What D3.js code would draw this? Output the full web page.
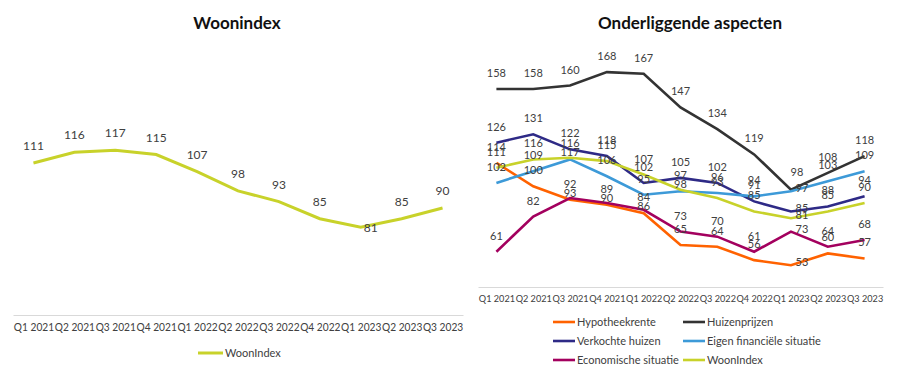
<!DOCTYPE html>
<html>
<head>
<meta charset="utf-8">
<script src="https://cdn.jsdelivr.net/npm/d3@7"></script>
<style>
  body { margin: 0; background: #fff; }
  svg { font-family: Lato, "Noto Sans", sans-serif; }
</style>
</head>
<body>
<svg id="chart" width="900" height="370"></svg>
<script>
// categories + series
const quarters = ['Q1 2021', 'Q2 2021', 'Q3 2021', 'Q4 2021', 'Q1 2022', 'Q2 2022',
    'Q3 2022', 'Q4 2022', 'Q1 2023', 'Q2 2023', 'Q3 2023'];

const woonIndex = [111, 116, 117, 115, 107, 98, 93, 85, 81, 85, 90];
const hypotheekrente = [114, 100, 92, 89, 84, 65, 64, 56, 53, 60, 57];
const huizenprijzen = [158, 158, 160, 168, 167, 147, 134, 119, 98, 108, 118];
const verkochteHuizen = [126, 131, 122, 118, 102, 105, 102, 91, 85, 88, 94];
const eigenFinancieel = [102, 109, 116, 106, 95, 97, 96, 94, 97, 103, 109];
const economisch = [61, 82, 93, 90, 86, 73, 70, 61, 73, 64, 68];

const seriesNames = ['Hypotheekrente', 'Huizenprijzen', 'Verkochte huizen',
    'Eigen financiële situatie', 'Economische situatie', 'WoonIndex'];
const seriesValues = [hypotheekrente, huizenprijzen, verkochteHuizen, eigenFinancieel, economisch, woonIndex];
const seriesColors = ['#ff6200', '#333333', '#2e2a86', '#3d9ad8', '#a3005e', '#c8d22a'];

// in the original the labels at the dip quarter sit to the right of the point
const sideLabelQuarter = 'Q1 2023';

const svg = d3.select('#chart');
const labelColor = '#404040';

// ---- left chart: Woonindex
const x1 = d3.scalePoint().domain(quarters).range([13, 463]).padding(0.5);
const y1 = d3.scaleLinear().domain([40, 140]).range([315, 101]);

svg.append('text')
    .attr('x', 237).attr('y', 29)
    .attr('text-anchor', 'middle')
    .attr('font-size', 17).attr('font-weight', 'bold')
    .attr('fill', '#111')
    .text('Woonindex');

const left = svg.append('g');

// tick labels in the original run into each other, so stretch them to the step
left.append('g')
    .attr('transform', 'translate(0,315)')
    .call(d3.axisBottom(x1).tickSize(0).tickPadding(8))
    .call(g => g.select('.domain').attr('stroke', '#d9d9d9'))
    .call(g => g.selectAll('text')
        .attr('font-size', 11.2).attr('fill', labelColor).attr('font-family', 'Lato')
        .attr('textLength', x1.step() - 0.6).attr('lengthAdjust', 'spacingAndGlyphs'));

left.append('path')
    .datum(woonIndex)
    .attr('fill', 'none')
    .attr('stroke', '#c8d22a')
    .attr('stroke-width', 3)
    .attr('d', d3.line().x((d, i) => x1(quarters[i])).y(d => y1(d)));

left.selectAll('.lbl')
    .data(woonIndex)
    .enter()
    .append('text')
    .attr('x', (d, i) => x1(quarters[i]) + (quarters[i] == sideLabelQuarter ? 10 : 0))
    .attr('y', (d, i) => y1(d) + (quarters[i] == sideLabelQuarter ? 5 : -13))
    .attr('text-anchor', 'middle')
    .attr('font-size', 12)
    .attr('fill', labelColor)
    .text(d => d);

// legend left
svg.append('line')
    .attr('x1', 198).attr('x2', 223).attr('y1', 353).attr('y2', 353)
    .attr('stroke', '#c8d22a').attr('stroke-width', 3);
svg.append('text')
    .attr('x', 225).attr('y', 357)
    .attr('font-size', 11).attr('fill', labelColor)
    .text('WoonIndex');

// ---- right chart: Onderliggende aspecten
const x2 = d3.scalePoint().domain(quarters).range([478, 883]).padding(0.5);
const y2 = d3.scaleLinear().domain([40, 180]).range([287, 52]);

svg.append('text')
    .attr('x', 690).attr('y', 29)
    .attr('text-anchor', 'middle')
    .attr('font-size', 17).attr('font-weight', 'bold')
    .attr('fill', '#111')
    .text('Onderliggende aspecten');

const right = svg.append('g');

right.append('g')
    .attr('transform', 'translate(0,287)')
    .call(d3.axisBottom(x2).tickSize(0).tickPadding(8))
    .call(g => g.select('.domain').attr('stroke', '#d9d9d9'))
    .call(g => g.selectAll('text')
        .attr('font-size', 10.2).attr('fill', labelColor).attr('font-family', 'Lato')
        .attr('textLength', x2.step() - 0.6).attr('lengthAdjust', 'spacingAndGlyphs'));

const line2 = d3.line().x((d, i) => x2(quarters[i])).y(d => y2(d));

seriesValues.forEach((vals, s) => {
    right.append('path')
        .datum(vals)
        .attr('fill', 'none')
        .attr('stroke', seriesColors[s])
        .attr('stroke-width', 2.6)
        .attr('d', line2);
});

// labels above points; nudge down when two land on top of each other
const placed = quarters.map(() => []);
seriesValues.forEach((vals, s) => {
    vals.forEach((v, i) => {
        let lx = x2(quarters[i]);
        let ly = y2(v) - 12;
        if (quarters[i] == sideLabelQuarter) {
            // Huizenprijzen stays above, a bit to the right
            if (s == 1) { lx += 6; ly = y2(v) - 14; }
            else { lx += 11; ly = y2(v) + 1; }
        } else {
            for (const p of placed[i]) {
                if (Math.abs(p - ly) < 3.5) ly = p + 9;
            }
            placed[i].push(ly);
        }
        right.append('text')
            .attr('x', lx).attr('y', ly)
            .attr('text-anchor', 'middle')
            .attr('font-size', 11)
            .attr('fill', labelColor)
            .text(v);
    });
});

// legend right, 2 columns
const leg = right.selectAll('.leg')
    .data(seriesNames)
    .enter()
    .append('g')
    .attr('transform', (d, i) => `translate(${i % 2 ? 683 : 553},${322 + Math.floor(i / 2) * 19})`);

leg.append('line')
    .attr('x1', 0).attr('x2', 22)
    .attr('stroke', (d, i) => seriesColors[i])
    .attr('stroke-width', 2.6);

leg.append('text')
    .attr('x', 24).attr('y', 4)
    .attr('font-size', 11)
    .attr('fill', labelColor)
    .text(d => d);
</script>
</body>
</html>
